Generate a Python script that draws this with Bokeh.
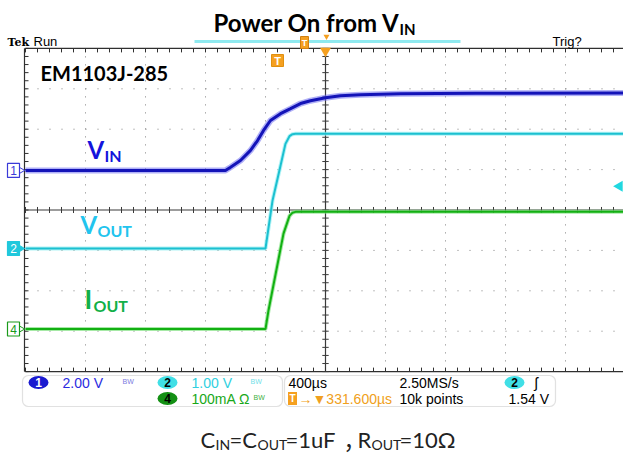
import numpy as np
from bokeh.plotting import figure
from bokeh.models import Range1d, BoxAnnotation
from bokeh.core.properties import value
from bokeh.embed import file_html
from bokeh.resources import INLINE

# ---------------- data (read from the scope capture) ----------------
# time relative to trigger, µs (400 µs/div)
vin_t = [-2000, -667, -633, -567, -500, -453, -413, -367, -300, -233, -167, -100, 0, 100, 233, 500, 1000, 2000]
vin_v = [0.0, 0.0, 0.16, 0.49, 0.99, 1.48, 1.98, 2.47, 2.81, 3.06, 3.31, 3.45, 3.60, 3.70, 3.75, 3.80, 3.82, 3.83]

vout_t = [-2000, -400, -353, -300, -267, -240, -220, -200, 2000]
vout_v = [0.0, 0.0, 1.19, 2.05, 2.59, 2.78, 2.83, 2.84, 2.84]

iout_t = [-2000, -400, -380, -280, -240, -220, -200, 2000]
iout_ma = [0, 0, 46, 236, 280, 288, 290, 290]

# channel settings: (volts or mA per div, ground position in div)
ch1_scale, ch1_pos = 2.0, 0.98
ch2_scale, ch2_pos = 1.0, -0.953
ch4_scale, ch4_pos = 100.0, -2.946
trig_level = 1.54  # V on CH2

info_left = ["2.00 V", "1.00 V", "100mA Ω"]
info_right = ["400µs", "2.50MS/s", "10k points", "1.54 V", "→▼331.600µs"]

# ---------------- helpers: screen px of the 623x456 picture -> data ----------------
US_PER_PX = 400.0 / 60.0
PX_PER_DIV = 40.4
def X(px):
    return (px - 325.0) * US_PER_PX
def Y(py):
    return (209.5 - py) / PX_PER_DIV

p = figure(width=623, height=456,
           x_range=Range1d(X(0), X(623)), y_range=Range1d(Y(456), Y(0)),
           output_backend="svg", toolbar_location=None,
           x_axis_location=None, y_axis_location=None,
           min_border=0, outline_line_color=None)
p.grid.visible = False
p.background_fill_color = "white"
p.border_fill_color = "white"

# ---------------- graticule ----------------
gx = [t for t in np.arange(-1600, 1601, 400) if t != 0]
gy = [v for v in np.arange(-3, 4, 1) if v != 0]
p.segment(x0=gx, y0=[4] * len(gx), x1=gx, y1=[-4] * len(gx),
          line_color="#808080", line_width=1, line_dash="1 7")
p.segment(x0=[-2000] * len(gy), y0=gy, x1=[2000] * len(gy), y1=gy,
          line_color="#808080", line_width=1, line_dash="1 11")
# center lines
p.segment(x0=[0, -2000], y0=[4, 0], x1=[0, 2000], y1=[-4, 0], line_color="#3a3a3a", line_width=1.2)
# frame lines
p.segment(x0=[-2000, -2000, X(24)], y0=[4, -4, 4], x1=[2000, 2000, X(24)], y1=[4, -4, -4],
          line_color="#303030", line_width=1.2)

tx = np.arange(-2000, 2001, 80.0)
ty = np.arange(-4, 4.001, 0.2)
tl_x = 4 * US_PER_PX
tl_y = 4 / PX_PER_DIV
# top & bottom frame ticks
p.segment(x0=tx, y0=np.full(len(tx), 4.0), x1=tx, y1=np.full(len(tx), 4.0 - tl_y), line_color="#303030")
p.segment(x0=tx, y0=np.full(len(tx), -4.0), x1=tx, y1=np.full(len(tx), -4.0 + tl_y), line_color="#303030")
# left frame ticks
p.segment(x0=np.full(len(ty), X(24)), y0=ty, x1=np.full(len(ty), X(24) + tl_x), y1=ty, line_color="#303030")
# center ticks
p.segment(x0=tx, y0=np.full(len(tx), -0.075), x1=tx, y1=np.full(len(tx), 0.075), line_color="#3a3a3a")
p.segment(x0=np.full(len(ty), -tl_x * 0.8), y0=ty, x1=np.full(len(ty), tl_x * 0.8), y1=ty, line_color="#3a3a3a")

# ---------------- traces ----------------
y1 = ch1_pos + np.array(vin_v) / ch1_scale
y2 = ch2_pos + np.array(vout_v) / ch2_scale
y4 = ch4_pos + np.array(iout_ma) / ch4_scale
p.line(vin_t, y1, line_color="#7070f0", line_width=6, line_alpha=0.55)
p.line(vin_t, y1, line_color="#1414b8", line_width=3)
p.line(vout_t, y2, line_color="#90eef2", line_width=4, line_alpha=0.7)
p.line(vout_t, y2, line_color="#1cc0d0", line_width=2)
p.line(iout_t, y4, line_color="#80e080", line_width=4, line_alpha=0.7)
p.line(iout_t, y4, line_color="#12b012", line_width=2)

# ---------------- text helpers (py = alphabetic baseline in picture px) ----------------
def txt(px, py, s, size, col, font="Lato", style="bold", align="left"):
    yc = py - 0.37 * size
    p.text(x=[X(px)], y=[Y(yc)], text=[s], text_font=value(font), text_font_style=style,
           text_font_size=f"{size}px", text_color=col, text_align=align, text_baseline="middle")

def itxt(px, py, s, col, size=14, style="normal"):
    p.text(x=[X(px)], y=[Y(py)], text=[s], text_font=value("Liberation Sans"), text_font_style=style,
           text_font_size=f"{size}px", text_color=col, text_baseline="middle")

# ---------------- top bar ----------------
txt(7, 46, "Tek", 11, "black", font="DejaVu Serif")
txt(33, 46, "Run", 13, "black", font="Liberation Sans", style="normal")
txt(552, 46, "Trig?", 13, "black", font="Liberation Sans", style="normal")
p.segment(x0=[X(194)], y0=[Y(41)], x1=[X(460)], y1=[Y(41)], line_color="#8fe9ef", line_width=3)
p.rect(x=[X(304)], y=[Y(42)], width=8, height=12, width_units="screen", height_units="screen",
       fill_color="#f5a020", line_color="#d08010")
p.text(x=[X(304)], y=[Y(42)], text=["T"], text_font=value("Liberation Sans"), text_font_style="bold",
       text_font_size="9px", text_color="white", text_align="center", text_baseline="middle")
p.scatter(x=[X(326)], y=[Y(36)], marker="inverted_triangle", size=6, fill_color="#f5a020", line_color=None)
p.scatter(x=[0], y=[Y(50.5)], marker="inverted_triangle", size=11, fill_color="#f5a020", line_color=None)
# trigger position marker
p.rect(x=[X(277)], y=[Y(60)], width=12, height=12, width_units="screen", height_units="screen",
       fill_color="#f5a020", line_color="#e09010")
p.text(x=[X(277)], y=[Y(60)], text=["T"], text_font=value("Liberation Sans"), text_font_style="bold",
       text_font_size="11px", text_color="white", text_align="center", text_baseline="middle")
# trigger level marker (right edge)
p.scatter(x=[X(619)], y=[ch2_pos + trig_level / ch2_scale], marker="triangle", angle=np.pi / 2,
          size=11, fill_color="#20d8e0", line_color=None)

# ---------------- channel ground markers ----------------
def ch_tag(yv, label, col, filled):
    p.scatter(x=[X(19)], y=[yv], marker="triangle", angle=-np.pi / 2, size=9,
              fill_color=col if filled else "white", line_color=col)
    p.rect(x=[X(13)], y=[yv], width=12, height=14, width_units="screen", height_units="screen",
           fill_color=col if filled else "white", line_color=col, line_width=1.2)
    p.text(x=[X(13)], y=[yv], text=[label], text_font=value("Liberation Sans"),
           text_font_size="12px", text_color="white" if filled else col,
           text_align="center", text_baseline="middle")

ch_tag(ch1_pos, "1", "#3a3ad8", False)
ch_tag(ch2_pos, "2", "#20c8dc", True)
ch_tag(ch4_pos, "4", "#1a9a1a", False)

# ---------------- annotations inside graticule ----------------
txt(40, 80, "EM1103J-285", 20, "black")
txt(87, 158, "V", 24, "#1414dc")
txt(104, 161, "IN", 16, "#1414dc")
txt(80, 233, "V", 24, "#22c4ee")
txt(97, 236, "OUT", 16, "#22c4ee")
txt(84, 308, "I", 26, "#12b048")
txt(93, 311, "OUT", 16, "#12b048")

# ---------------- title ----------------
txt(213, 31, "Power On from V", 24, "black")
txt(399, 34, "IN", 15, "black")

# ---------------- info panel ----------------
for l, r in [(22, 282), (284, 555)]:
    p.add_layout(BoxAnnotation(left=X(l), right=X(r), top=Y(375), bottom=Y(406),
                               fill_color="white", fill_alpha=1.0, line_color="#9a9a9a",
                               line_width=1.2, border_radius=6, level="underlay"))

def badge(px, py, label, col, tcol):
    p.ellipse(x=[X(px)], y=[Y(py)], width=20, height=13, width_units="screen", height_units="screen",
              fill_color=col, line_color=None)
    p.text(x=[X(px)], y=[Y(py)], text=[label], text_font=value("Liberation Sans"), text_font_style="bold",
           text_font_size="12px", text_color=tcol, text_align="center", text_baseline="middle")

R1, R2 = 382, 398
badge(38, R1, "1", "#1a1ad0", "white")
itxt(62, R1, info_left[0], "#2a2ae0")
itxt(122, R1 - 1, "BW", "#7a7ae0", 7)
badge(167, R1, "2", "#40dfe6", "black")
itxt(191, R1, info_left[1], "#30d0e0")
itxt(250, R1 - 1, "BW", "#70e0e8", 7)
badge(167, R2, "4", "#149014", "black")
itxt(191, R2, info_left[2], "#18a818")
itxt(253, R2 - 1, "BW", "#40b040", 7)

itxt(288, R1, info_right[0], "black")
itxt(399, R1, info_right[1], "black")
badge(514, R1, "2", "#40dfe6", "black")
itxt(534, R1, "ʃ", "black", 15)
p.rect(x=[X(292)], y=[Y(R2)], width=9, height=13, width_units="screen", height_units="screen",
       fill_color="#f5a020", line_color=None)
p.text(x=[X(292)], y=[Y(R2)], text=["T"], text_font=value("Liberation Sans"), text_font_style="bold",
       text_font_size="10px", text_color="white", text_align="center", text_baseline="middle")
itxt(298, R2, info_right[4], "#f0a020")
itxt(399, R2, info_right[2], "black")
itxt(508, R2, info_right[3], "black")

# ---------------- caption ----------------
CAP = "#222222"
txt(200, 447, "C", 22, CAP, style="normal")
txt(215, 449, "IN", 14, CAP, style="normal")
txt(229, 447, "=C", 22, CAP, style="normal")
txt(257, 449, "OUT", 14, CAP, style="normal")
txt(285, 447, "=1uF", 22, CAP, style="normal")
txt(343, 447, "，", 22, CAP, font="Noto Sans CJK SC", style="normal")
txt(357, 447, "R", 22, CAP, style="normal")
txt(371, 449, "OUT", 14, CAP, style="normal")
txt(399, 447, "=10Ω", 22, CAP, style="normal")

open("out.html", "w").write(file_html(p, INLINE))
